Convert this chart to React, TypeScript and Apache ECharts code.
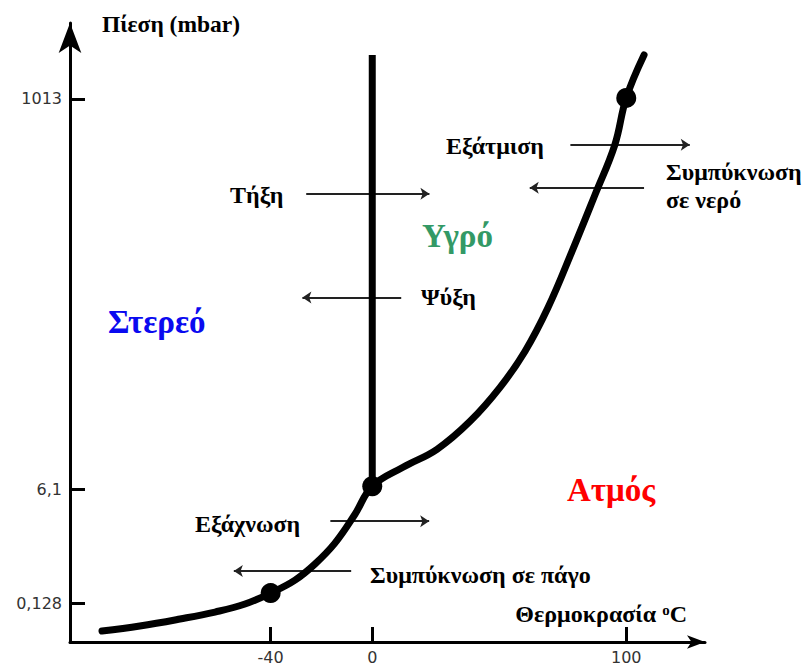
import React, { useEffect, useRef } from "react";
import * as echarts from "echarts";

// Temperature (°C) along the phase boundary curve (sublimation + vaporisation)
const curveTemperature = [-106.4, -91.5, -75.7, -61.9, -50.1, -40, -30.4, -22.6, -14.7, -6.8, 0, 12.1, 25.5, 38.5, 50.3, 60.1, 69.2, 78.6, 87.7, 95.5, 100, 107];
// Schematic pressure level (non-linear pressure scale) of the curve
const curveLevel = [11, 16, 23, 30, 38, 49, 62, 78, 99, 128, 156, 175, 193, 221, 255, 291, 335, 391, 448, 498, 545, 588];

// Melting line (vertical at 0 °C)
const meltTemperature = [0, 0];
const meltLevel = [156, 588];

// Marked points: -40 °C / 0,128 mbar, triple point, boiling point
const pointTemperature = [-40, 0, 100];
const pointLevel = [49, 156, 545];

// Axis ticks
const temperatureTicks = [-40, 0, 100];
const pressureTickLevels = [39, 153, 544];
const pressureTickLabels = ["0,128", "6,1", "1013"];

// Process arrows: [fromT, fromLevel, toT, toLevel]
const arrowNames = ["Τήξη", "Ψύξη", "Εξάτμιση", "Συμπύκνωση σε νερό", "Εξάχνωση", "Συμπύκνωση σε πάγο"];
const arrowFromT = [-26, 11.4, 78, 107, -16.5, -8.3];
const arrowToT = [22.5, -27.5, 125, 62, 22.4, -54.5];
const arrowLevel = [449, 345, 498, 455, 121, 71];

const serif = "Liberation Serif";
const sans = "DejaVu Sans";

export default function App() {
  const ref = useRef<HTMLDivElement>(null);
  useEffect(() => {
    if (!ref.current) return;
    const chart = echarts.init(ref.current, undefined, { renderer: "svg" });
    const curve = curveTemperature.map((t, i) => [t, curveLevel[i]]);
    const melt = meltTemperature.map((t, i) => [t, meltLevel[i]]);
    const points = pointTemperature.map((t, i) => [t, pointLevel[i]]);
    const arrows = arrowNames.map((n, i) => ({
      name: n,
      coords: [
        [arrowFromT[i], arrowLevel[i]],
        [arrowToT[i], arrowLevel[i]],
      ],
    }));
    const label = (text: string, x: number, y: number, size: number, color = "#000") => ({
      type: "text",
      x,
      y,
      style: {
        text,
        fill: color,
        fontFamily: serif,
        fontWeight: "bold",
        fontSize: size,
        verticalAlign: "middle",
        align: "left",
      },
    });
    chart.setOption({
      animation: false,
      backgroundColor: "#fff",
      grid: { left: 70, right: 98, top: 23, bottom: 22, containLabel: false },
      xAxis: {
        type: "value",
        min: -119,
        max: 131,
        name: "{a|Θερμοκρασία }{s|o}{a|C}",
        nameLocation: "end",
        nameGap: -18,
        nameTextStyle: {
          align: "right",
          verticalAlign: "bottom",
          padding: [0, 0, 16, 0],
          rich: {
            a: { fontFamily: serif, fontWeight: "bold", fontSize: 24, color: "#000" },
            s: { fontFamily: serif, fontWeight: "bold", fontSize: 15, color: "#000", verticalAlign: "top" },
          },
        },
        axisLine: {
          show: true,
          onZero: false,
          symbol: ["none", "arrow"],
          symbolSize: [10, 18],
          lineStyle: { color: "#000", width: 3 },
        },
        axisTick: {
          show: true,
          inside: true,
          length: 15,
          customValues: temperatureTicks,
          lineStyle: { color: "#000", width: 3 },
        },
        axisLabel: {
          show: true,
          customValues: temperatureTicks,
          margin: 7,
          fontFamily: sans,
          fontSize: 16,
          color: "#333",
        },
        splitLine: { show: false },
      },
      yAxis: {
        type: "value",
        min: 0,
        max: 620,
        name: "Πίεση (mbar)",
        nameLocation: "end",
        nameGap: -1,
        nameTextStyle: {
          align: "left",
          verticalAlign: "middle",
          padding: [0, 0, 0, 32],
          fontFamily: serif,
          fontWeight: "bold",
          fontSize: 23.5,
          color: "#000",
        },
        axisLine: {
          show: true,
          onZero: false,
          symbol: ["none", "arrow"],
          symbolSize: [17, 30],
          lineStyle: { color: "#000", width: 3 },
        },
        axisTick: {
          show: true,
          inside: true,
          length: 15,
          customValues: pressureTickLevels,
          lineStyle: { color: "#000", width: 3 },
        },
        axisLabel: {
          show: true,
          customValues: pressureTickLevels,
          margin: 8,
          fontFamily: sans,
          fontSize: 16,
          color: "#333",
          formatter: (v: number) => {
            const i = pressureTickLevels.indexOf(v);
            return i >= 0 ? pressureTickLabels[i] : "";
          },
        },
        splitLine: { show: false },
      },
      series: [
        {
          type: "line",
          name: "Καμπύλη εξάχνωσης / εξάτμισης",
          data: curve,
          smooth: 0.4,
          showSymbol: false,
          lineStyle: { color: "#000", width: 7, cap: "round" },
          z: 3,
        },
        {
          type: "line",
          name: "Καμπύλη τήξης",
          data: melt,
          showSymbol: false,
          lineStyle: { color: "#000", width: 7 },
          z: 3,
        },
        {
          type: "scatter",
          name: "Σημεία",
          data: points,
          symbolSize: 20,
          itemStyle: { color: "#000", opacity: 1 },
          z: 4,
        },
        {
          type: "lines",
          name: "Διεργασίες",
          coordinateSystem: "cartesian2d",
          data: arrows,
          symbol: ["none", "arrow"],
          symbolSize: 9,
          lineStyle: { color: "#222", width: 2, opacity: 1 },
          z: 2,
        },
      ],
      graphic: [
        label("Στερεό", 108, 322, 33, "#0a0af0"),
        label("Υγρό", 422, 236, 33, "#339966"),
        label("Ατμός", 567, 490, 33, "#ff0000"),
        label("Τήξη", 230, 195, 24),
        label("Ψύξη", 421, 297, 24),
        label("Εξάτμιση", 446, 146, 24),
        label("Συμπύκνωση", 666, 172, 24),
        label("σε νερό", 666, 200, 24),
        label("Εξάχνωση", 195, 524, 24),
        label("Συμπύκνωση σε πάγο", 370, 575, 24),
      ],
    });
    return () => chart.dispose();
  }, []);
  return (
    <div
      ref={ref}
      style={{ position: "fixed", left: 0, top: 0, width: 803, height: 665 }}
    />
  );
}
